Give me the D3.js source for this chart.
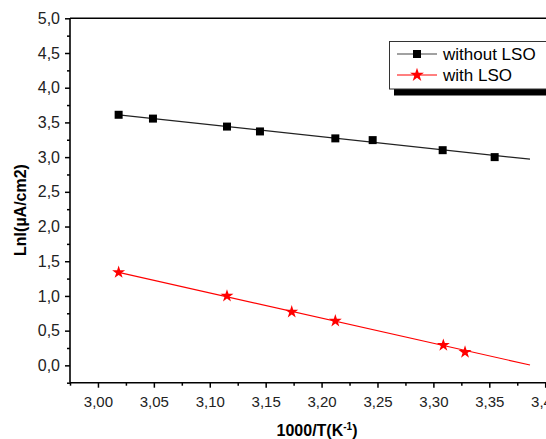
<!DOCTYPE html>
<html>
<head>
<meta charset="utf-8">
<script src="https://cdn.jsdelivr.net/npm/d3@7"></script>
<style>
  body { margin: 0; background: #fff; }
  text { font-family: "Liberation Sans", Arial, sans-serif; }
</style>
</head>
<body>
<div id="chart"></div>
<script>
// values
var blackX = [3.0185, 3.0492, 3.1154, 3.1449, 3.2123, 3.2457, 3.3083, 3.3548];
var blackY = [3.61, 3.555, 3.44, 3.37, 3.27, 3.245, 3.10, 3.00];
var redX = [3.0185, 3.1154, 3.1733, 3.2123, 3.3089, 3.3283];
var redY = [1.34, 1.00, 0.77, 0.64, 0.29, 0.19];
// fitted lines, start/end
var fitX = [3.0185, 3.3864];
var blackFitY = [3.61, 2.97];
var redFitY = [1.34, 0.005];

var xTicks = [3.00, 3.05, 3.10, 3.15, 3.20, 3.25, 3.30, 3.35, 3.40];
var xTickLabels = ["3,00", "3,05", "3,10", "3,15", "3,20", "3,25", "3,30", "3,35", "3,40"];
var xMinor = [2.975, 3.025, 3.075, 3.125, 3.175, 3.225, 3.275, 3.325, 3.375];
var yTicks = [0, 0.5, 1.0, 1.5, 2.0, 2.5, 3.0, 3.5, 4.0, 4.5, 5.0];
var yTickLabels = ["0,0", "0,5", "1,0", "1,5", "2,0", "2,5", "3,0", "3,5", "4,0", "4,5", "5,0"];
var yMinor = [-0.25, 0.25, 0.75, 1.25, 1.75, 2.25, 2.75, 3.25, 3.75, 4.25, 4.75];

var seriesNames = ["without LSO", "with LSO"];

var width = 546, height = 439;
var plotLeft = 70, plotTop = 18.3, plotBottom = 382.7;

var x = d3.scaleLinear().domain([2.975, 3.4]).range([plotLeft, 545.2]);
var y = d3.scaleLinear().domain([-0.25, 5.0]).range([plotBottom, plotTop]);

var svg = d3.select('#chart').append('svg')
  .attr('width', width)
  .attr('height', height);

// axes
svg.append('g')
  .attr('transform', 'translate(0,' + plotBottom + ')')
  .call(d3.axisBottom(x).tickValues(xMinor).tickSize(3).tickFormat(''));

var xa = svg.append('g')
  .attr('transform', 'translate(0,' + plotBottom + ')')
  .call(d3.axisBottom(x).tickValues(xTicks).tickSize(5).tickPadding(9)
    .tickFormat(function(d, i){ return xTickLabels[i]; }));
xa.selectAll('text').attr('font-size', 15).attr('fill', '#222')
  .style('font-family', '"Liberation Sans", Arial, sans-serif');

svg.append('g')
  .attr('transform', 'translate(' + plotLeft + ',0)')
  .call(d3.axisLeft(y).tickValues(yMinor).tickSize(3).tickFormat(''));

var ya = svg.append('g')
  .attr('transform', 'translate(' + plotLeft + ',0)')
  .call(d3.axisLeft(y).tickValues(yTicks).tickSize(5).tickPadding(5)
    .tickFormat(function(d, i){ return yTickLabels[i]; }));
ya.selectAll('text').attr('font-size', 16).attr('fill', '#222')
  .style('font-family', '"Liberation Sans", Arial, sans-serif');

svg.selectAll('.tick line').attr('stroke', '#000').attr('stroke-width', 1.5);
svg.selectAll('.domain').remove();

// frame lines
svg.append('line').attr('x1', plotLeft).attr('x2', width).attr('y1', plotBottom).attr('y2', plotBottom)
  .attr('stroke', '#000').attr('stroke-width', 1.6);
svg.append('line').attr('x1', plotLeft).attr('x2', plotLeft).attr('y1', plotTop).attr('y2', plotBottom)
  .attr('stroke', '#000').attr('stroke-width', 1.6);
svg.append('line').attr('x1', plotLeft).attr('x2', width).attr('y1', plotTop).attr('y2', plotTop)
  .attr('stroke', '#000').attr('stroke-width', 1.6);

// fit lines
var line = d3.line().x(function(d){ return x(d[0]); }).y(function(d){ return y(d[1]); });
svg.append('path').datum(d3.zip(fitX, blackFitY))
  .attr('d', line).attr('fill', 'none').attr('stroke', '#222').attr('stroke-width', 1.2);
svg.append('path').datum(d3.zip(fitX, redFitY))
  .attr('d', line).attr('fill', 'none').attr('stroke', '#f00').attr('stroke-width', 1.2);

// markers
svg.selectAll('.sq').data(d3.zip(blackX, blackY)).enter()
  .append('path').attr('class', 'sq')
  .attr('d', d3.symbol().type(d3.symbolSquare).size(64))
  .attr('transform', function(d){ return 'translate(' + x(d[0]) + ',' + y(d[1]) + ')'; })
  .attr('fill', '#000');

svg.selectAll('.st').data(d3.zip(redX, redY)).enter()
  .append('path').attr('class', 'st')
  .attr('d', d3.symbol().type(d3.symbolStar).size(52))
  .attr('transform', function(d){ return 'translate(' + x(d[0]) + ',' + y(d[1]) + ')'; })
  .attr('fill', '#f00');

// axis titles
svg.append('text')
  .attr('transform', 'translate(26,210) rotate(-90)')
  .attr('text-anchor', 'middle')
  .attr('font-size', 16).attr('font-weight', 'bold')
  .text('Lnl(µA/cm2)');

var xt = svg.append('text')
  .attr('x', 317).attr('y', 436)
  .attr('text-anchor', 'middle')
  .attr('font-size', 16).attr('font-weight', 'bold');
xt.append('tspan').text('1000/T(K');
xt.append('tspan').attr('font-size', 10).attr('dy', -6).text('-1');
xt.append('tspan').attr('dy', 6).text(')');

// legend
var lg = svg.append('g');
lg.append('rect').attr('x', 394).attr('y', 46).attr('width', 160).attr('height', 49.5).attr('fill', '#000');
lg.append('rect').attr('x', 389.5).attr('y', 41.5).attr('width', 160).attr('height', 47.5)
  .attr('fill', '#fff').attr('stroke', '#333').attr('stroke-width', 1);

var rows = [54, 75];
var colors = ['#444', '#f00'];
seriesNames.forEach(function(name, i){
  lg.append('line').attr('x1', 397).attr('x2', 437).attr('y1', rows[i]).attr('y2', rows[i])
    .attr('stroke', colors[i]).attr('stroke-width', 1.2);
  lg.append('path')
    .attr('d', d3.symbol().type(i == 0 ? d3.symbolSquare : d3.symbolStar).size(i == 0 ? 64 : 60))
    .attr('transform', 'translate(417,' + rows[i] + ')')
    .attr('fill', i == 0 ? '#000' : '#f00');
  lg.append('text').attr('x', 443).attr('y', rows[i] + 6)
    .attr('font-size', 17).text(name);
});
</script>
</body>
</html>
